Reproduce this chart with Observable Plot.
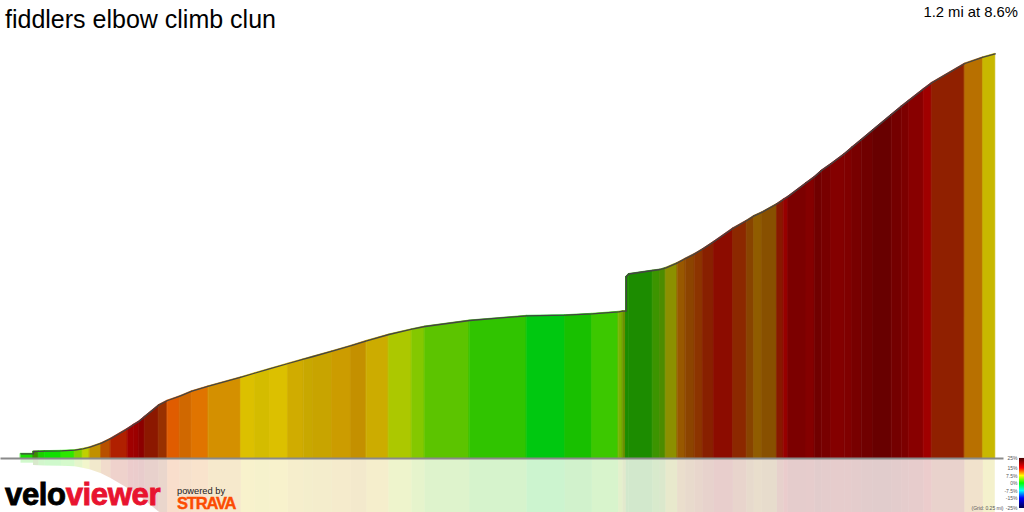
<!DOCTYPE html>
<html>
<head>
<meta charset="utf-8">
<script src="https://cdn.jsdelivr.net/npm/d3@7"></script>
<script src="https://cdn.jsdelivr.net/npm/@observablehq/plot@0.6"></script>
<style>
html,body{margin:0;padding:0;background:#fff;overflow:hidden;width:1024px;height:512px;font-family:"Liberation Sans",Arial,sans-serif}
#stage{position:relative;width:1024px;height:512px;overflow:hidden}
#stage>svg,#stage>div.p{position:absolute;left:0;top:0}
.t{position:absolute;white-space:nowrap;line-height:1}
</style>
</head>
<body>
<div id="stage">
  <div class="t" id="title" style="left:5px;top:7px;font-size:25px;color:#000"></div>
  <div class="t" id="summary" style="right:6px;top:5px;font-size:14.8px;color:#000"></div>
  <div class="t" id="logo" style="left:5px;top:479px;font-size:31px;font-weight:bold;letter-spacing:-.34px;-webkit-text-stroke:.9px currentColor"></div>
  <div class="t" id="powered" style="left:177px;top:487px;font-size:9.3px;color:#222"></div>
  <div class="t" id="strava" style="left:177px;top:495px;font-size:16.5px;font-weight:bold;letter-spacing:-1.2px;color:#fc4c02;-webkit-text-stroke:.4px #fc4c02"></div>
</div>
<script>
const titleText = "fiddlers elbow climb clun";
const summaryText = "1.2 mi at 8.6%";
const logoWords = ["velo", "viewer"];
const poweredText = "powered by";
const stravaText = "STRAVA";
const gridNote = "(Grid: 0.25 mi)";

// distance along the climb (read in picture units) at each gradient band edge
const edges = [20,32.5,32.5,38,44,60.5,74,82,89,100.5,110,127,133,138,144,158,166.7,179,191,207.7,240.3,254.3,269.3,287.3,302.7,312.3,331.3,350.3,365.7,388,411,424,468.7,526,564.3,591.3,617.7,622,625.3,625.3,628,652,659.3,665,676.7,684.7,694,702.3,713.3,732.3,746,753.3,761.3,776.3,783,787.3,805.5,814,820.7,830.3,843.7,851.3,860.7,872.3,890.7,900.7,908,923,931,964,982.3,994.3];
// elevation at each edge (same units)
const elevation = [4.7,4.7,7,7.2,7.4,7.7,8.3,9.7,11.3,15.3,20,30,34,37,42,53.5,58,62.3,67.3,72.3,81.3,85.5,89.8,95,99.3,102,107.3,112.8,117.7,124,129.3,132,138,142.7,143.3,144.7,146.7,147.3,147.3,182,184.5,188,189,190.7,195.7,200,204.7,209.7,217,230.3,238,242.7,246.3,254.7,259.3,262,275.7,282,288,294.7,304.7,311.3,319,328.7,344,352.3,358,369.7,375.7,395,401.3,404.7];
// fill of each band between two neighbouring edges
const bandColors = ["#19e000","#19e000","#3a8f00","#1cd000","#10e000","#2ce800","#80d000","#c0d000","#c09000","#b85000","#b02000","#a00000","#9c0000","#8c0000","#8c1800","#983000","#e05c00","#d06800","#e07400","#d49000","#dcc000","#d4bc00","#dcc000","#d0ac00","#c8a800","#c8a400","#cc9c00","#c49000","#ccac00","#acc800","#84c800","#5cc400","#30c400","#00c810","#18c000","#3cc800","#78b400","#6c9000","#1c8c00","#1c8c00","#1c8c00","#3c9400","#4c8c00","#8c9000","#985800","#8c4400","#8c3400","#882000","#8c0c00","#8c2800","#884400","#905c00","#885000","#881800","#980000","#7c0000","#840000","#700000","#780000","#840000","#800000","#780000","#700000","#680000","#740000","#7c0000","#880000","#a00000","#902000","#b87000","#c8b800"];

const legendGrades = [25,15,7.5,0,-7.5,-15,-25];
const legendLabels = ["25%","15%","7.5%","0%","-7.5%","-15%","-25%"];
const legendColors = ["#4a0000","#ff0000","#ffff00","#00ff00","#00ffff","#0000ff","#00004a"];

const bands = bandColors.flatMap((color, i) => [
  {band:i, color, d:edges[i],   e:elevation[i]},
  {band:i, color, d:edges[i+1], e:elevation[i+1]}
]);
const profile = edges.map((d,i) => ({d, e:elevation[i]}));

const main = Plot.plot({
  width:1024, height:512,
  margin:0,
  x:{domain:[-.5,1023.5], range:[0,1024], axis:null},
  y:{domain:[-54,458], range:[512,0], axis:null},
  color:{type:"identity"},
  style:{background:"transparent"},
  marks:[
    Plot.areaY(bands,{x:"d", y1:d=>-d.e, y2:0, z:"band", fill:"color", fillOpacity:.2, curve:"linear"}),
    Plot.areaY(bands,{x:"d", y1:0, y2:"e", z:"band", fill:"color", stroke:"color", strokeWidth:.7, curve:"linear"}),
    Plot.ruleY([0],{x1:0, x2:1003, stroke:"#8a8a8a", strokeWidth:2}),
    Plot.lineY(profile,{x:"d", y:"e", stroke:"#444444", strokeWidth:1.3, curve:"linear"})
  ]
});

const legendBands = d3.range(-25,25);
const legend = Plot.plot({
  width:1024, height:512,
  margin:0,
  x:{domain:[0,1024], range:[0,1024], axis:null},
  y:{domain:[-25,25], range:[508,458], axis:null},
  color:{type:"linear", domain:legendGrades.slice().reverse(), range:legendColors.slice().reverse()},
  style:{background:"transparent"},
  marks:[
    Plot.rect(legendBands,{x1:1019, x2:1024, y1:d=>d, y2:d=>d+1.05, fill:d=>d+.5}),
    Plot.text(legendLabels,{x:1017, y:(d,i)=>legendGrades[i], text:d=>d, textAnchor:"end", fontSize:5, fill:"#555", fontFamily:"Liberation Sans"}),
    Plot.text([gridNote],{x:1003, y:-25, text:d=>d, textAnchor:"end", fontSize:5, fill:"#555", fontFamily:"Liberation Sans"})
  ]
});

const stage = document.getElementById("stage");
stage.insertBefore(legend, stage.firstChild);
stage.insertBefore(main, stage.firstChild);
document.getElementById("title").textContent = titleText;
document.getElementById("summary").textContent = summaryText;
document.getElementById("logo").innerHTML = `<span style="color:#000">${logoWords[0]}</span><span style="color:#e8142f">${logoWords[1]}</span>`;
document.getElementById("powered").textContent = poweredText;
document.getElementById("strava").textContent = stravaText;
</script>
</body>
</html>
